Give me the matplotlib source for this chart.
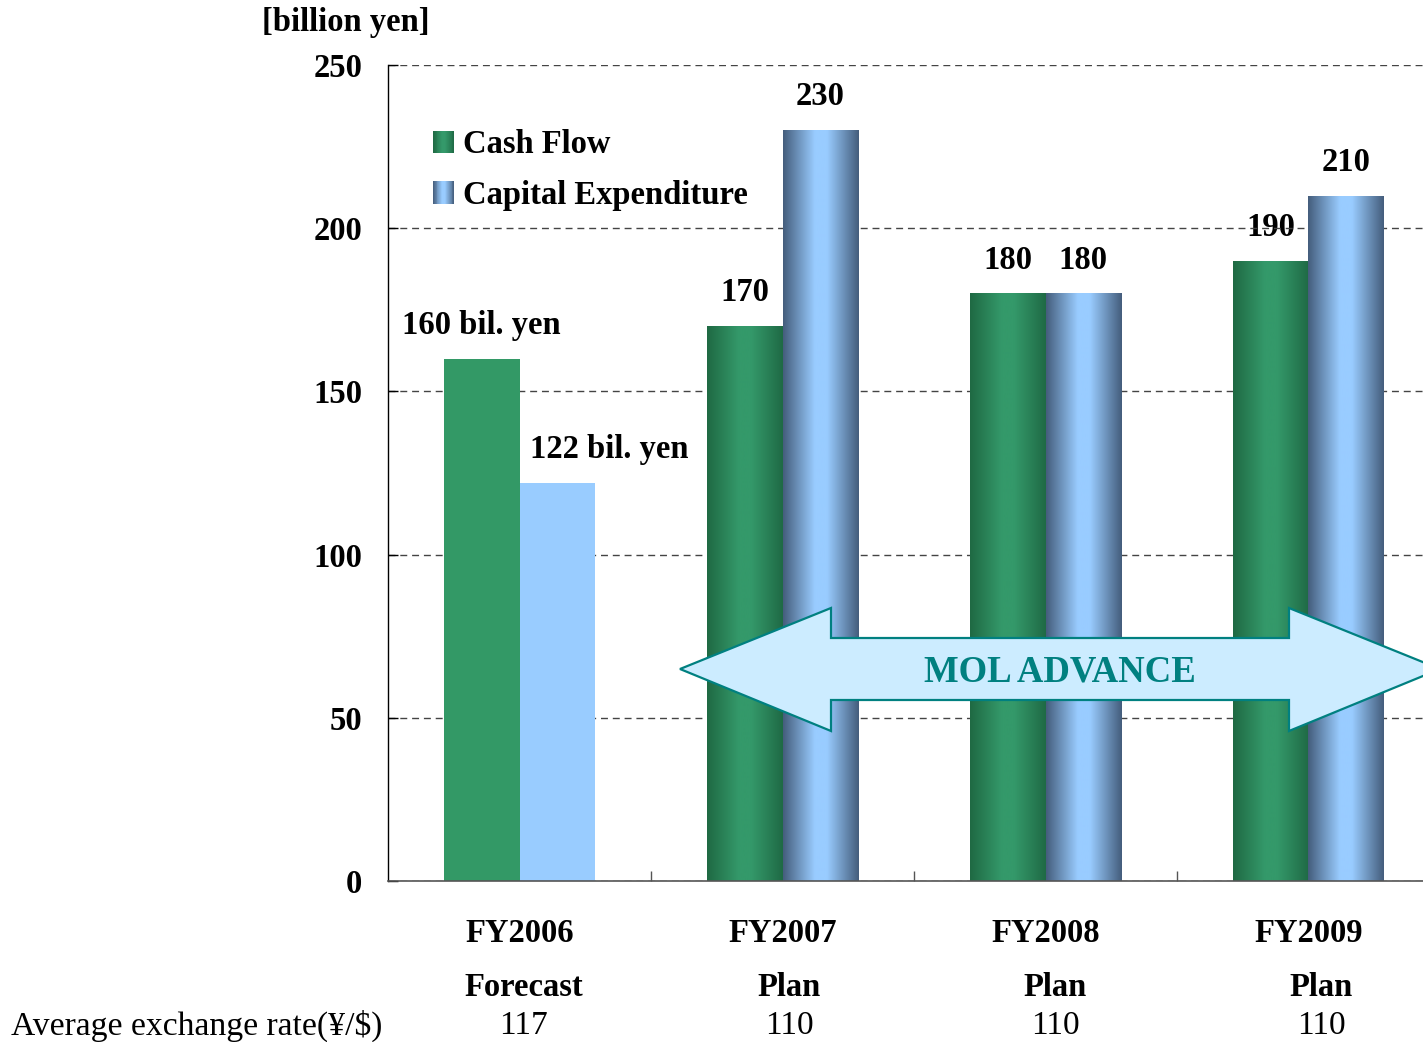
import numpy as np
import matplotlib
matplotlib.use("Agg")
import matplotlib.pyplot as plt
from matplotlib.colors import LinearSegmentedColormap
from matplotlib.legend_handler import HandlerBase
from matplotlib.patches import Polygon, Rectangle

# chart values
categories = ["FY2006", "FY2007", "FY2008", "FY2009"]
period_labels = ["Forecast", "Plan", "Plan", "Plan"]
cash_flow = [160, 170, 180, 190]
capex = [122, 230, 180, 210]
exchange_rate = [117, 110, 110, 110]
cash_flow_labels = ["160 bil. yen", "170", "180", "190"]
capex_labels = ["122 bil. yen", "230", "180", "210"]
y_ticks = [0, 50, 100, 150, 200, 250]

SERIF = ["Liberation Serif", "DejaVu Serif"]
FS = 23.5

plt.rcParams["font.family"] = SERIF

GREEN = "#339966"
BLUE = "#99ccff"
green_cmap = LinearSegmentedColormap.from_list(
    "green_cyl", [(0.0, "#1f6943"), (0.42, "#34996a"), (0.58, "#34996a"), (1.0, "#1f6a45")])
blue_cmap = LinearSegmentedColormap.from_list(
    "blue_cyl", [(0.0, "#445d7c"), (0.42, "#99ccff"), (0.58, "#99ccff"), (1.0, "#445d7c")])


class GradientHandler(HandlerBase):
    def __init__(self, cmap, steps=24):
        super().__init__()
        self.cmap = cmap
        self.steps = steps

    def create_artists(self, legend, orig_handle, xdescent, ydescent, width, height, fontsize, trans):
        artists = []
        w = width / self.steps
        for i in range(self.steps):
            r = Rectangle((-xdescent + i * w, -ydescent), w * 1.05, height,
                          facecolor=self.cmap((i + 0.5) / self.steps), edgecolor="none",
                          transform=trans)
            artists.append(r)
        return artists


fig = plt.figure(figsize=(14.23, 10.42), dpi=100)
W, H = 1423.0, 1042.0
# axes spans 388..1440 px horizontally (right part runs past the figure edge)
ax = fig.add_axes([388 / W, 1 - 881 / H, 1052 / W, 816 / H])

x = np.arange(len(categories))
bw = 0.288

green_bars = ax.bar(x - bw / 2, cash_flow, width=bw, color=GREEN, zorder=1)
blue_bars = ax.bar(x + bw / 2, capex, width=bw, color=BLUE, zorder=1)

grad = np.linspace(0, 1, 256).reshape(1, -1)
for i in range(1, len(categories)):
    for bar, cmap in ((green_bars[i], green_cmap), (blue_bars[i], blue_cmap)):
        x0 = bar.get_x()
        im = ax.imshow(grad, cmap=cmap, extent=(x0, x0 + bar.get_width(), 0, bar.get_height()),
                       aspect="auto", interpolation="bilinear", zorder=1.1)
        im.set_clip_path(bar)

ax.set_xlim(-0.5, len(categories) - 0.5)
ax.set_ylim(0, 250)

# value labels
for i, bar in enumerate(green_bars):
    ax.annotate(cash_flow_labels[i], (bar.get_x() + bar.get_width() / 2, bar.get_height()),
                xytext=(0, 24), textcoords="offset points", ha="center", va="center",
                fontsize=FS, fontweight="bold", zorder=0.4)
for i, bar in enumerate(blue_bars):
    dx = 37 if i == 0 else 0
    ax.annotate(capex_labels[i], (bar.get_x() + bar.get_width() / 2, bar.get_height()),
                xytext=(dx, 24), textcoords="offset points", ha="center", va="center",
                fontsize=FS, fontweight="bold", zorder=0.4)

# axes styling
ax.set_axisbelow(True)
ax.yaxis.grid(True, color="#444444", linestyle=(0, (5, 3.5)), linewidth=1.0)
ax.set_yticks(y_ticks)
ax.set_yticklabels([str(v) for v in y_ticks], fontsize=FS, fontweight="bold")
ax.tick_params(axis="y", direction="in", length=7, width=1, pad=18.5)
ax.set_xticks(x[:-1] + 0.5)
ax.set_xticklabels([])
ax.tick_params(axis="x", direction="in", length=7, width=1, color="#555555")
for side in ("top", "right"):
    ax.spines[side].set_visible(False)
ax.spines["left"].set_linewidth(1.0)
ax.spines["bottom"].set_color("#555555")
ax.spines["bottom"].set_linewidth(1.2)

# category rows under the axis
xt = ax.get_xaxis_transform()
for i, cat in enumerate(categories):
    ax.text(i, -0.064, cat, transform=xt, ha="center", va="center",
            fontsize=FS, fontweight="bold")
    xr = i + 0.015 + 0.011 * i
    ax.text(xr, -0.130, period_labels[i], transform=xt, ha="center", va="center",
            fontsize=FS, fontweight="bold")
    ax.text(xr, -0.177, str(exchange_rate[i]), transform=xt, ha="center", va="center",
            fontsize=24)
ax.text(-0.005, -0.177, "Average exchange rate(¥/$)", transform=ax.transAxes,
        ha="right", va="center", fontsize=24.2)
ax.text(-0.040, 1.052, "[billion yen]", transform=ax.transAxes, ha="center", va="center",
        fontsize=FS, fontweight="bold")

# legend with shaded swatches
h_cf = Rectangle((0, 0), 1, 1, facecolor=GREEN)
h_cx = Rectangle((0, 0), 1, 1, facecolor=BLUE)
ax.legend([h_cf, h_cx], ["Cash Flow", "Capital Expenditure"],
          handler_map={h_cf: GradientHandler(green_cmap), h_cx: GradientHandler(blue_cmap)},
          loc="upper left", bbox_to_anchor=(0.0428, 0.921), frameon=False,
          prop={"family": SERIF, "size": FS, "weight": "bold"},
          handlelength=0.65, handleheight=0.68, handletextpad=0.28,
          labelspacing=0.6, borderpad=0, borderaxespad=0)

# double-headed "MOL ADVANCE" arrow (decoration, figure pixel coords)
arrow_px = [(680, 669), (831, 608), (831, 638), (1289, 638), (1289, 608), (1440, 669),
            (1289, 731), (1289, 700), (831, 700), (831, 731)]
arrow = Polygon([(px / W, 1 - py / H) for px, py in arrow_px], closed=True,
                transform=fig.transFigure, facecolor="#ccecff", edgecolor="#008080",
                linewidth=1.6, zorder=5)
fig.patches.append(arrow)
fig.text(1060 / W, 1 - 672 / H, "MOL ADVANCE", ha="center", va="center",
         fontsize=26.5, fontweight="bold", color="#008080", zorder=6)

fig.savefig("out.png", dpi=100)
